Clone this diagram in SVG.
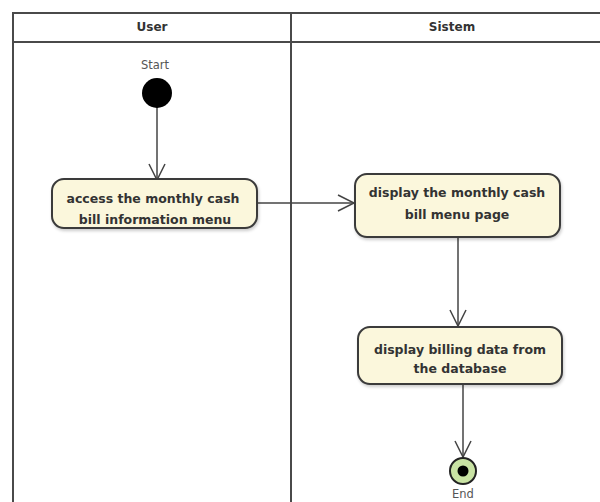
<svg xmlns="http://www.w3.org/2000/svg" width="600" height="502" viewBox="0 0 600 502">
  <style>
    .lane { fill: none; stroke: #4a4a4a; stroke-width: 2; }
    .head { font-family: "DejaVu Sans", Verdana, sans-serif; font-size: 12px; font-weight: bold; fill: #333; text-anchor: middle; }
    .act rect { fill: #fbf7dc; stroke: #3a3a3a; stroke-width: 2; }
    .act text { font-family: "DejaVu Sans", Verdana, sans-serif; font-size: 12.5px; font-weight: bold; fill: #333; text-anchor: middle; }
    .lbl { font-family: "DejaVu Sans", Verdana, sans-serif; font-size: 11.5px; fill: #555; text-anchor: middle; }
    .flow { fill: none; stroke: #444; stroke-width: 1.5; marker-end: url(#open); }
  </style>
  <defs>
    <marker id="open" viewBox="0 0 20 20" refX="18" refY="10" markerWidth="20" markerHeight="20" markerUnits="userSpaceOnUse" orient="auto">
      <path d="M2,2 L18,10 L2,18" fill="none" stroke="#444" stroke-width="1.5"/>
    </marker>
    <filter id="shadow" x="-10%" y="-20%" width="120%" height="150%">
      <feDropShadow dx="1" dy="2" stdDeviation="1.5" flood-color="#000" flood-opacity="0.2"/>
    </filter>
  </defs>

  <rect width="600" height="502" fill="#fff"/>

  <!-- swimlanes -->
  <g id="swimlanes">
    <path class="lane" d="M13,502 V13 H602 M13,42 H602 M291,13 V502"/>
    <text class="head" x="152" y="31">User</text>
    <text class="head" x="452" y="31">Sistem</text>
  </g>

  <!-- connectors -->
  <g id="connectors">
    <path class="flow" d="M157,107 V180"/>
    <path class="flow" d="M257,203 H354"/>
    <path class="flow" d="M458,238 V326"/>
    <path class="flow" d="M463,385 V457"/>
  </g>

  <g id="start">
    <text class="lbl" x="155" y="69">Start</text>
    <circle cx="157" cy="93" r="15" fill="#000"/>
  </g>

  <g id="access-menu" class="act">
    <rect x="52" y="179" width="205" height="49" rx="12" filter="url(#shadow)"/>
    <text x="153" y="203">access the monthly cash</text>
    <text x="155" y="224">bill information menu</text>
  </g>

  <g id="display-menu-page" class="act">
    <rect x="355" y="174" width="205" height="63" rx="12" filter="url(#shadow)"/>
    <text x="457" y="197">display the monthly cash</text>
    <text x="457" y="219">bill menu page</text>
  </g>

  <g id="display-billing-data" class="act">
    <rect x="358" y="327" width="204" height="57" rx="12" filter="url(#shadow)"/>
    <text x="460" y="354">display billing data from</text>
    <text x="460" y="373">the database</text>
  </g>

  <g id="end">
    <circle cx="463" cy="471" r="13" fill="#c9e3a4" stroke="#222" stroke-width="2"/>
    <circle cx="463" cy="471" r="5.5" fill="#000"/>
    <text class="lbl" x="463" y="498">End</text>
  </g>
</svg>
